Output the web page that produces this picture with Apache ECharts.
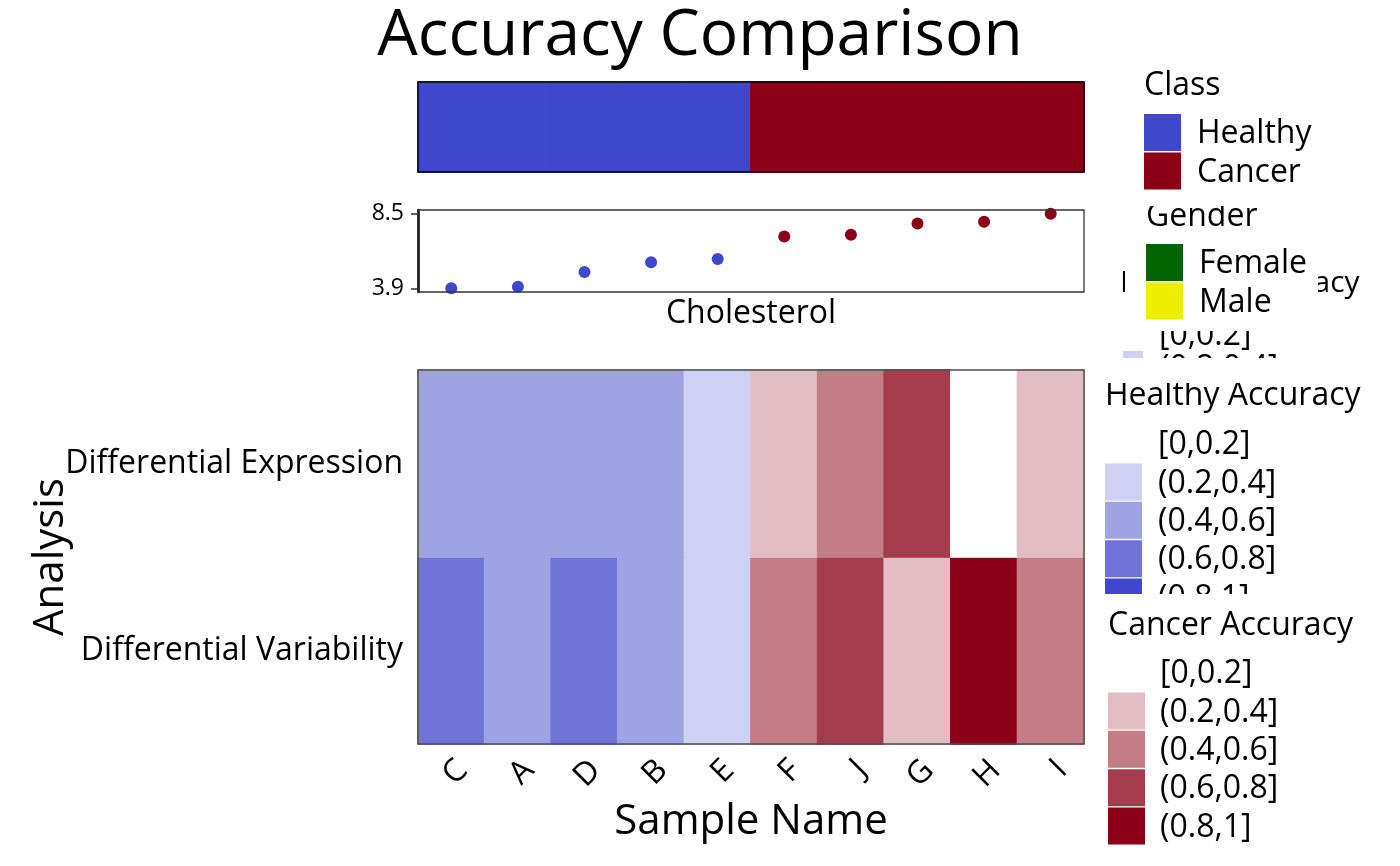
<!DOCTYPE html>
<html>
<head>
<meta charset="utf-8">
<script src="https://cdn.jsdelivr.net/npm/echarts@6/dist/echarts.min.js"></script>
<style>
html, body { margin: 0; padding: 0; background: #fff; }
#chart { width: 1400px; height: 866px; }
</style>
</head>
<body>
<div id="chart"></div>
<script>
// 样本及分组
var samples = ['C', 'A', 'D', 'B', 'E', 'F', 'J', 'G', 'H', 'I'];
var sampleClass = ['Healthy', 'Healthy', 'Healthy', 'Healthy', 'Healthy', 'Cancer', 'Cancer', 'Cancer', 'Cancer', 'Cancer'];
var cholesterol = [3.9, 4.0, 4.9, 5.5, 5.7, 7.1, 7.2, 7.9, 8.0, 8.5];
var cholTicks = [3.9, 8.5];

// 热图：两种分析的准确率
var analyses = ['Differential Variability', 'Differential Expression'];
var diffVariability = [0.7, 0.5, 0.7, 0.5, 0.3, 0.5, 0.7, 0.3, 0.9, 0.5];
var diffExpression = [0.5, 0.5, 0.5, 0.5, 0.3, 0.3, 0.5, 0.7, 0.1, 0.3];

// 图例
var accuracyBins = ['[0,0.2]', '(0.2,0.4]', '(0.4,0.6]', '(0.6,0.8]', '(0.8,1]'];
var classNames = ['Healthy', 'Cancer'];
var classColors = ['#3F48CC', '#8B0016'];
var genderNames = ['Female', 'Male'];
var genderColors = ['#006400', '#EEEE00'];
var healthyColors = ['#FFFFFF', '#CED1F1', '#A0A3E3', '#6F75D8', '#3F48CC'];
var cancerColors = ['#FFFFFF', '#E2BEC4', '#C27D87', '#A43C4D', '#8B0016'];

var FONT = 'Open Sans';

// 0~1 的值落在哪个区间
function binIndex(v) {
  var k = Math.ceil(v / 0.2 - 1e-9) - 1;
  return Math.max(0, Math.min(4, k));
}

function classColor(i) {
  return classColors[classNames.indexOf(sampleClass[i])];
}

function accColor(i, v) {
  var pal = sampleClass[i] === 'Healthy' ? healthyColors : cancerColors;
  return pal[binIndex(v)];
}

// 填充色同时描边，避免格子之间出现细缝
function cellStyle(c) {
  return { color: c, borderColor: c, borderWidth: 1 };
}

// 顶部 class 色条
var classData = samples.map(function (s, i) {
  return { value: [i, 0, classNames.indexOf(sampleClass[i])], itemStyle: cellStyle(classColor(i)) };
});

// 胆固醇散点
var cholData = cholesterol.map(function (v, i) {
  return { value: [i, v], itemStyle: { color: classColor(i), opacity: 1 } };
});

// 准确率热图
var accData = [];
[diffVariability, diffExpression].forEach(function (arr, row) {
  arr.forEach(function (v, i) {
    accData.push({ value: [i, row, v], itemStyle: cellStyle(accColor(i, v)) });
  });
});

// 图例（手工画）
var graphics = [];
function txt(x, y, s, z, size) {
  graphics.push({
    type: 'text', x: x, y: y, z: z,
    style: { text: s, fill: '#000', font: (size || 32) + 'px "' + FONT + '"', textVerticalAlign: 'middle' }
  });
}
function key(x, y, w, h, color, z) {
  graphics.push({ type: 'rect', z: z, shape: { x: x, y: y, width: w, height: h }, style: { fill: color } });
}
function cover(x, y, w, h, z) {
  graphics.push({ type: 'rect', z: z, shape: { x: x, y: y, width: w, height: h }, style: { fill: '#fff' } });
}
function block(x, titleY, title, labels, colors, keyTop, labelX, z) {
  txt(x, titleY, title, z, 32);
  labels.forEach(function (l, i) {
    var y = keyTop + i * 38.4;
    key(x, y, 37, 37, colors[i], z);
    txt(labelX, y + 20, l, z);
  });
}

// 被挤压的 Healthy Accuracy 图例残影
txt(1120, 283, 'Healthy Accuracy', 1, 30);
txt(1159, 336, accuracyBins[0], 1);
key(1123, 351, 20, 20, healthyColors[1], 1);
txt(1160, 369, accuracyBins[1], 1);
cover(1095, 358, 305, 25, 6);

// Gender
cover(1125, 196, 193, 135, 2);
block(1146, 217, 'Gender', genderNames, genderColors, 244, 1199, 3);

// Class
cover(1120, 55, 280, 151, 4);
block(1144, 86, 'Class', classNames, classColors, 114, 1197, 5);

// Healthy / Cancer Accuracy
block(1105, 396, 'Healthy Accuracy', accuracyBins, healthyColors, 425, 1158, 1);
cover(1095, 594, 305, 22, 6);
block(1108, 626, 'Cancer Accuracy', accuracyBins, cancerColors, 654, 1160, 7);

var chart = echarts.init(document.getElementById('chart'), null, { renderer: 'canvas' });

var option = {
  backgroundColor: '#fff',
  animation: false,
  textStyle: { fontFamily: FONT },
  title: {
    text: 'Accuracy Comparison',
    left: 'center',
    top: 0,
    textStyle: { fontFamily: FONT, fontSize: 64, fontWeight: 'normal', color: '#000' }
  },
  grid: [
    { left: 418, top: 82, width: 666, height: 90, show: true, z: 10, backgroundColor: 'transparent', borderColor: '#000', borderWidth: 1.5 },
    { left: 418, top: 210, width: 666, height: 82, show: true, z: 10, backgroundColor: 'transparent', borderColor: '#333', borderWidth: 1.3 },
    { left: 418, top: 370, width: 666, height: 374, show: true, z: 10, backgroundColor: 'transparent', borderColor: '#4d4d4d', borderWidth: 1.5 }
  ],
  xAxis: [
    { gridIndex: 0, type: 'category', data: samples, show: false },
    {
      gridIndex: 1, type: 'category', data: samples,
      axisLine: { show: false }, axisTick: { show: false }, axisLabel: { show: false },
      name: 'Cholesterol', nameLocation: 'middle', nameGap: 6,
      nameTextStyle: { fontSize: 32, color: '#000', verticalAlign: 'top' }
    },
    {
      gridIndex: 2, type: 'category', data: samples,
      axisLine: { show: false },
      axisTick: { alignWithLabel: true, length: 4, lineStyle: { color: '#333' } },
      axisLabel: { rotate: 45, fontSize: 32, color: '#000', margin: 10, align: 'right', verticalAlign: 'top' },
      name: 'Sample Name', nameLocation: 'middle', nameGap: 57,
      nameTextStyle: { fontSize: 42, color: '#000', verticalAlign: 'top' }
    }
  ],
  yAxis: [
    { gridIndex: 0, type: 'category', data: ['Class'], show: false },
    {
      gridIndex: 1, type: 'value', min: 3.67, max: 8.73,
      splitLine: { show: false },
      axisLine: { show: true, lineStyle: { color: '#000', width: 2.5 } },
      axisTick: { show: true, length: 7, customValues: cholTicks, lineStyle: { color: '#333', width: 1.5 } },
      axisLabel: { customValues: cholTicks, fontSize: 23, color: '#000', margin: 14 }
    },
    {
      gridIndex: 2, type: 'category', data: analyses,
      axisLine: { show: false },
      axisTick: { alignWithLabel: true, length: 4, lineStyle: { color: '#333' } },
      axisLabel: { fontSize: 32, color: '#000', margin: 15 },
      name: 'Analysis', nameLocation: 'middle', nameGap: 346, nameRotate: 90,
      nameMoveOverlap: false,
      nameTextStyle: { fontSize: 42, color: '#000' }
    }
  ],
  series: [
    {
      type: 'heatmap', xAxisIndex: 0, yAxisIndex: 0, data: classData,
      emphasis: { disabled: true }
    },
    {
      type: 'scatter', xAxisIndex: 1, yAxisIndex: 1, data: cholData,
      symbolSize: 12, emphasis: { disabled: true }
    },
    {
      type: 'heatmap', xAxisIndex: 2, yAxisIndex: 2, data: accData,
      emphasis: { disabled: true }
    }
  ],
  graphic: graphics
};

chart.setOption(option);
</script>
</body>
</html>
